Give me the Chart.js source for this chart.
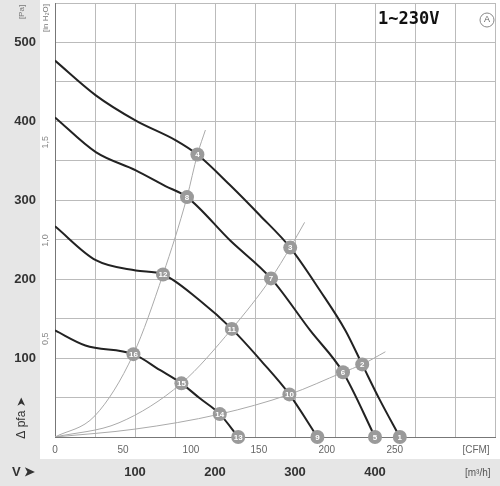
<!DOCTYPE html>
<html>
<head>
<meta charset="utf-8">
<script src="https://cdn.jsdelivr.net/npm/chart.js@4"></script>
<style>
  body { margin: 0; background: #fff; }
  #wrap { width: 500px; height: 486px; position: relative; }
</style>
</head>
<body>
<div id="wrap"><canvas id="chart" width="500" height="486"></canvas></div>
<script>
// fan curves: [m3/h, Pa]
const curve1 = [[0,477],[51,433],[101,401],[151,376],[178,358],[219,319],[256,281],[294,240],[331,186],[363,135],[384,92],[406,47],[431,0]];
const curve2 = [[0,405],[51,361],[101,338],[138,318],[165,304],[219,249],[270,201],[319,135],[360,82],[400,0]];
const curve3 = [[0,267],[51,224],[101,211],[135,206],[181,173],[221,137],[259,95],[293,54],[328,0]];
const curve4 = [[0,135],[38,116],[98,105],[131,85],[158,68],[181,49],[206,29],[229,0]];
// system lines
const sysA = [[0,0],[50,27],[98,105],[135,206],[165,304],[178,358],[188,389]];
const sysB = [[0,0],[80,18],[158,68],[221,137],[270,201],[294,240],[312,272]];
const sysC = [[0,0],[100,10],[206,29],[293,54],[360,82],[384,92],[413,108]];
// numbered operating points
const markers = [
  [1,431,0],[2,384,92],[3,294,240],[4,178,358],
  [5,400,0],[6,360,82],[7,270,201],[8,165,304],
  [9,328,0],[10,293,54],[11,221,137],[12,135,206],
  [13,229,0],[14,206,29],[15,158,68],[16,98,105]
];
const paTicks = [100,200,300,400,500];
const inH2OTicks = [0.5,1.0,1.5];
const m3hTicks = [100,200,300,400];
const cfmTicks = [0,50,100,150,200,250];

const pts = a => a.map(p => ({x: p[0], y: p[1]}));
const fan = d => ({data: pts(d), borderColor: '#222', borderWidth: 2, pointRadius: 0, cubicInterpolationMode: 'monotone'});
const sys = d => ({data: pts(d), borderColor: '#aaa', borderWidth: 1, pointRadius: 0, cubicInterpolationMode: 'monotone'});

const decor = {
  id: 'decor',
  beforeDraw(c) {
    const g = c.ctx;
    g.save();
    g.fillStyle = '#e6e6e6';
    g.fillRect(0, 0, 40, 486);
    g.fillRect(40, 459, 460, 27);
    g.restore();
  },
  afterDraw(c) {
    const g = c.ctx, x = c.scales.x, y = c.scales.y;
    g.save();
    g.fillStyle = '#333';
    g.font = 'bold 13px Arial, "Liberation Sans"';
    g.textAlign = 'right'; g.textBaseline = 'middle';
    paTicks.forEach(v => g.fillText(v, 36, y.getPixelForValue(v)));
    g.textAlign = 'center';
    m3hTicks.forEach(v => g.fillText(v, x.getPixelForValue(v), 472));
    g.textAlign = 'left';
    g.fillText('V ➤', 12, 472);
    g.font = '10px Arial, "Liberation Sans"';
    g.fillStyle = '#555';
    g.fillText('[m³/h]', 465, 473);
    g.fillStyle = '#666';
    g.textAlign = 'center';
    cfmTicks.forEach(v => g.fillText(v, x.getPixelForValue(v * 1.699), 450));
    g.fillText('[CFM]', 476, 450);
    // rotated labels
    const rot = (t, px, py, font, col) => {
      g.save(); g.translate(px, py); g.rotate(-Math.PI / 2);
      g.font = font; g.fillStyle = col; g.textAlign = 'center'; g.textBaseline = 'middle';
      g.fillText(t, 0, 0); g.restore();
    };
    inH2OTicks.forEach(v => rot(v.toFixed(1).replace('.', ','), 46, y.getPixelForValue(v * 249), '9px Arial', '#888'));
    rot('[in H₂O]', 46, 18, '8px Arial', '#777');
    rot('[Pa]', 22, 12, '8px Arial', '#777');
    rot('Δ pfa ➤', 22, 418, '12px Arial', '#333');
    // title
    g.fillStyle = '#111';
    g.font = 'bold 17px "DejaVu Sans Mono", monospace';
    g.textAlign = 'left';
    g.fillText('1~230V', 378, 20);
    g.strokeStyle = '#888'; g.lineWidth = 1;
    g.beginPath(); g.arc(487, 20, 7, 0, Math.PI * 2); g.stroke();
    g.font = '9px Arial'; g.fillStyle = '#666'; g.textAlign = 'center';
    g.fillText('A', 487, 20);
    // numbered points
    markers.forEach(m => {
      const px = x.getPixelForValue(m[1]), py = y.getPixelForValue(m[2]);
      g.fillStyle = '#9a9a9a';
      g.beginPath(); g.arc(px, py, 7, 0, Math.PI * 2); g.fill();
      g.fillStyle = '#fff'; g.font = 'bold 8px Arial';
      g.fillText(m[0], px, py + 0.5);
    });
    g.restore();
  }
};

new Chart(document.getElementById('chart'), {
  type: 'line',
  data: { datasets: [sys(sysA), sys(sysB), sys(sysC), fan(curve1), fan(curve2), fan(curve3), fan(curve4)] },
  options: {
    responsive: false, animation: false,
    devicePixelRatio: 1,
    layout: { padding: { left: 55, right: 5, top: 3, bottom: 49 } },
    plugins: { legend: { display: false }, tooltip: { enabled: false } },
    scales: {
      x: { type: 'linear', min: 0, max: 550, ticks: { display: false, stepSize: 50 },
           grid: { color: '#bbb', drawTicks: false }, border: { color: '#777' } },
      y: { type: 'linear', min: 0, max: 550, ticks: { display: false, stepSize: 50 },
           grid: { color: '#bbb', drawTicks: false }, border: { color: '#777' } }
    }
  },
  plugins: [decor]
});
</script>
</body>
</html>
